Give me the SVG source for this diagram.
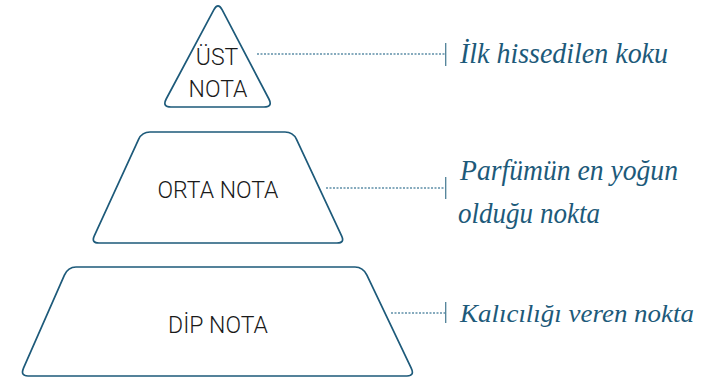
<svg xmlns="http://www.w3.org/2000/svg" width="707" height="382" viewBox="0 0 707 382">
<style>
.shape{fill:#ffffff;stroke:#1d5a7a;stroke-width:1.7;stroke-linejoin:round}
.lbl{font-family:Roboto,"Liberation Sans",sans-serif;font-size:23px;font-weight:300;fill:#1a1a1a;text-anchor:middle}
.dot{stroke:#5f8fa8;stroke-width:1.3;stroke-dasharray:2 1.5;fill:none}
.tick{stroke:#4f8098;stroke-width:1.3;fill:none}
.script{font-family:"Liberation Serif","DejaVu Serif",serif;font-style:italic;font-size:29px;fill:#1d5a7a}
.script.sm{font-size:26px}
</style>
<rect width="707" height="382" fill="#ffffff"/>
<g id="ust">
<path class="shape" d="M213.8,9.9 Q218,2 222.2,9.9 L268.9,99 Q273,107 264,107 L171,107 Q162,107 166.2,99 Z"/>
<text class="lbl" x="217" y="65">ÜST</text>
<text class="lbl" x="218" y="97">NOTA</text>
</g>
<g id="orta">
<path class="shape" d="M150,132 L285,132 Q293,132 296.4,139.2 L341.6,235.8 Q345,243 337,243 L99,243 Q91,243 94.3,235.8 L138.7,139.2 Q142,132 150,132 Z"/>
<text class="lbl" x="218" y="198">ORTA NOTA</text>
</g>
<g id="dip">
<path class="shape" d="M76,267 L355,267 Q363,267 366.9,275.1 L411.1,367.9 Q415,376 407,376 L28,376 Q20,376 23.6,367.8 L64.4,275.2 Q68,267 76,267 Z"/>
<text class="lbl" x="218" y="333">DİP NOTA</text>
</g>
<g id="connectors">
<line class="dot" x1="257" y1="54" x2="445" y2="54"/>
<line class="tick" x1="445.7" y1="43" x2="445.7" y2="66"/>
<line class="dot" x1="326" y1="188" x2="445" y2="188"/>
<line class="tick" x1="445.7" y1="177" x2="445.7" y2="199"/>
<line class="dot" x1="391" y1="313" x2="445" y2="313"/>
<line class="tick" x1="445.7" y1="302" x2="445.7" y2="323"/>
</g>
<g id="labels">
<text class="script" x="460" y="63" textLength="208" lengthAdjust="spacingAndGlyphs">İlk hissedilen koku</text>
<text class="script" x="460" y="180" textLength="218" lengthAdjust="spacingAndGlyphs">Parfümün en yoğun</text>
<text class="script" x="458" y="223" textLength="142" lengthAdjust="spacingAndGlyphs">olduğu nokta</text>
<text class="script sm" x="460" y="322" textLength="234" lengthAdjust="spacingAndGlyphs">Kalıcılığı veren nokta</text>
</g>
</svg>
